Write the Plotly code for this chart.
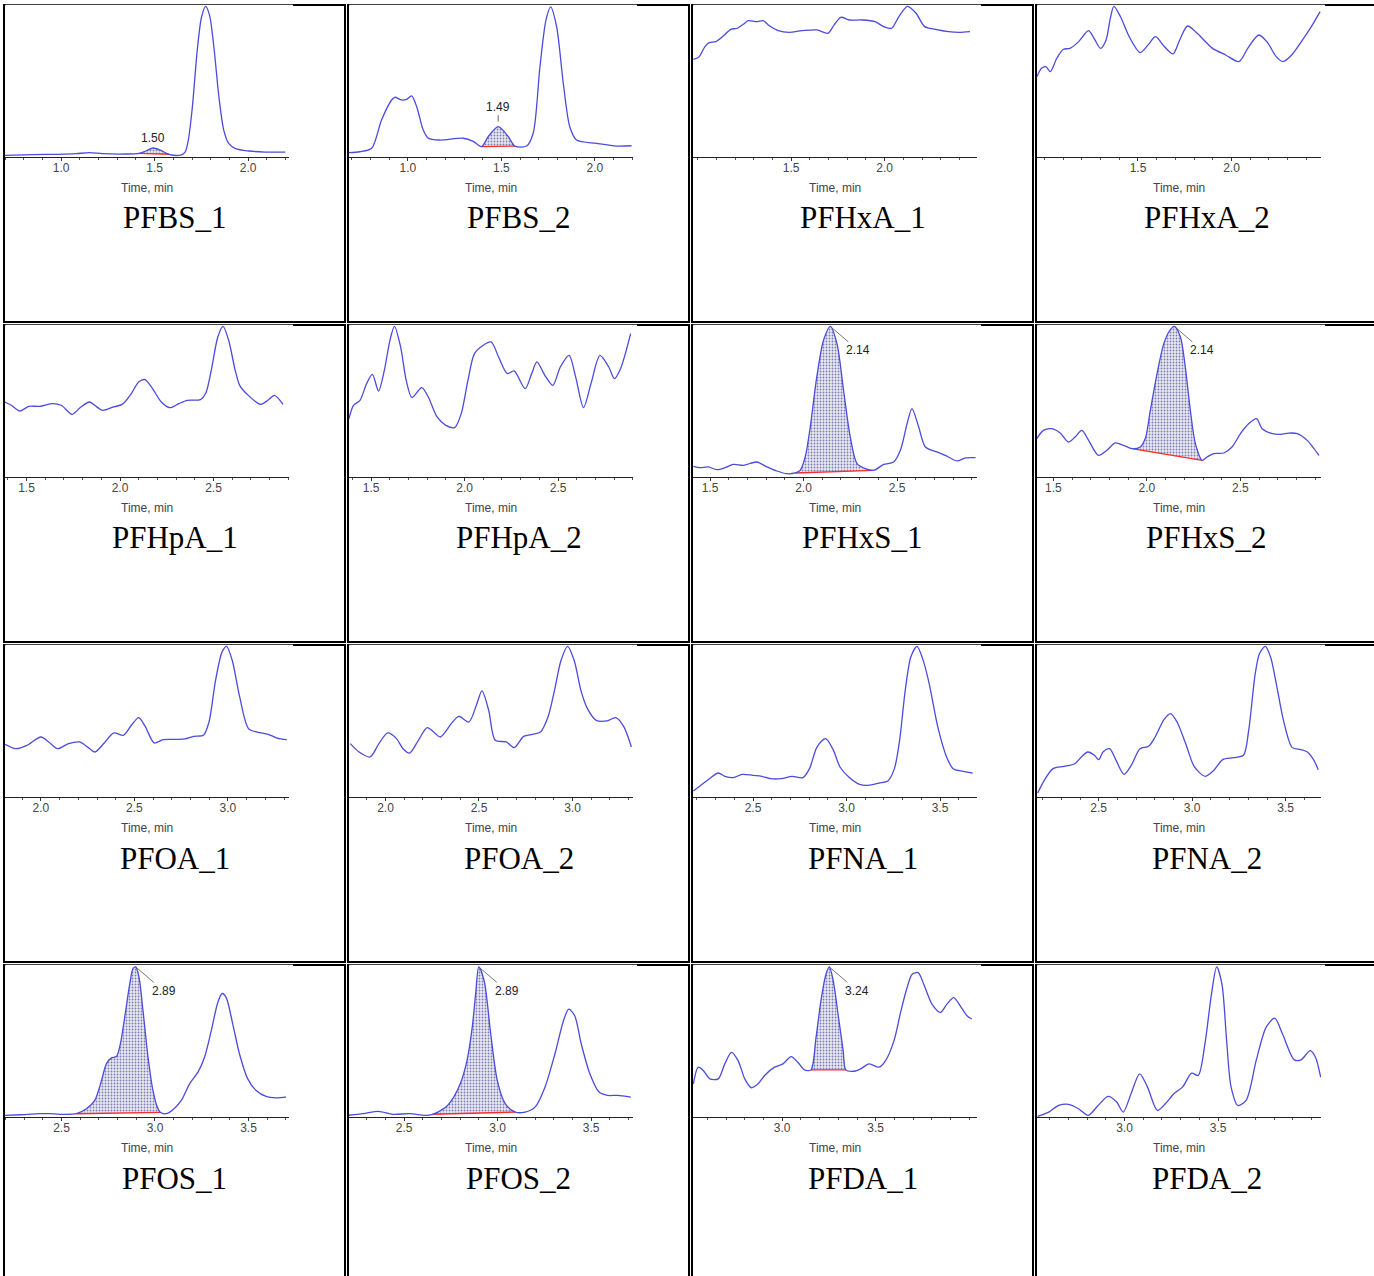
import plotly.graph_objects as go

# ---------------- data (retention time in min, relative intensity in %) ----------------
panel_names = ["PFBS_1", "PFBS_2", "PFHxA_1", "PFHxA_2",
               "PFHpA_1", "PFHpA_2", "PFHxS_1", "PFHxS_2",
               "PFOA_1", "PFOA_2", "PFNA_1", "PFNA_2",
               "PFOS_1", "PFOS_2", "PFDA_1", "PFDA_2"]

t_PFBS_1 = [0.698, 0.849, 0.991, 1.080, 1.151, 1.222, 1.346, 1.417, 1.453, 1.492, 1.533, 1.577, 1.639, 1.663,
            1.680, 1.702, 1.728, 1.751, 1.773, 1.794, 1.817, 1.844, 1.870, 1.897, 1.933, 2.004, 2.092, 2.199]
i_PFBS_1 = [1.1, 1.6, 1.8, 2.2, 2.9, 2.2, 2.0, 2.4, 4.0, 6.0, 4.4, 1.8, 1.3, 3.3,
            11.1, 33.3, 71.1, 93.3, 100.4, 94.4, 73.3, 40.0, 17.8, 8.9, 5.6, 4.0, 3.3, 3.3]

t_PFBS_2 = [0.684, 0.743, 0.806, 0.859, 0.913, 0.930, 0.966, 0.993, 1.020, 1.047, 1.082, 1.109, 1.171, 1.296,
            1.349, 1.394, 1.429, 1.483, 1.537, 1.572, 1.635, 1.670, 1.706, 1.738, 1.763, 1.795, 1.831, 1.866,
            1.902, 2.009, 2.116, 2.196]
i_PFBS_2 = [2.9, 3.5, 5.8, 24.7, 38.0, 39.8, 38.0, 38.4, 40.7, 33.5, 18.0, 12.5, 11.3, 12.5,
            10.4, 6.9, 13.5, 20.2, 13.5, 7.3, 7.3, 15.8, 60.0, 91.0, 100.0, 87.0, 49.0, 20.0,
            11.3, 9.1, 7.3, 7.5]

t_PFHxA_1 = [0.977, 1.005, 1.039, 1.062, 1.097, 1.143, 1.177, 1.212, 1.247, 1.270, 1.316, 1.350, 1.385, 1.431,
             1.488, 1.558, 1.638, 1.696, 1.730, 1.765, 1.811, 1.880, 1.949, 1.995, 2.037, 2.076, 2.122, 2.168,
             2.214, 2.272, 2.341, 2.398, 2.456]
i_PFHxA_1 = [65.1, 66.4, 73.6, 76.2, 76.9, 81.3, 85.1, 85.8, 88.7, 90.9, 90.2, 90.9, 87.3, 84.2,
             83.1, 84.2, 84.7, 82.4, 88.0, 93.1, 91.3, 91.3, 90.2, 86.9, 85.8, 93.6, 100.4, 95.8,
             86.9, 85.1, 83.6, 83.1, 83.6]

t_PFHxA_2 = [0.960, 0.984, 1.007, 1.031, 1.066, 1.101, 1.136, 1.183, 1.235, 1.265, 1.300, 1.329, 1.352, 1.371,
             1.406, 1.453, 1.512, 1.554, 1.594, 1.641, 1.688, 1.723, 1.765, 1.817, 1.899, 1.969, 2.040, 2.087,
             2.146, 2.192, 2.239, 2.275, 2.322, 2.380, 2.427, 2.474]
i_PFHxA_2 = [53.6, 59.1, 60.2, 56.9, 65.8, 71.8, 72.4, 76.9, 84.2, 79.1, 72.4, 77.8, 92.4, 100.4,
             93.6, 80.2, 69.6, 74.7, 80.2, 73.6, 68.7, 78.0, 87.3, 82.4, 72.4, 68.0, 63.6, 72.4,
             81.3, 76.4, 66.9, 63.6, 68.0, 78.0, 86.9, 96.9]

t_PFHpA_1 = [1.384, 1.419, 1.465, 1.512, 1.570, 1.640, 1.686, 1.744, 1.791, 1.837, 1.872, 1.907, 1.965, 2.012,
             2.058, 2.100, 2.133, 2.174, 2.221, 2.267, 2.314, 2.360, 2.430, 2.458, 2.488, 2.523, 2.551, 2.581,
             2.616, 2.640, 2.686, 2.751, 2.791, 2.826, 2.872]
i_PFHpA_1 = [50.0, 47.8, 44.0, 47.1, 47.1, 48.9, 47.8, 41.8, 46.7, 50.0, 47.1, 44.4, 46.7, 48.4,
             55.1, 63.3, 64.9, 58.9, 50.0, 46.2, 48.9, 51.1, 51.6, 55.6, 71.1, 93.3, 100.4, 91.1,
             71.1, 61.1, 54.4, 48.4, 51.1, 54.4, 48.4]

t_PFHpA_2 = [1.382, 1.406, 1.441, 1.476, 1.507, 1.540, 1.571, 1.601, 1.625, 1.658, 1.688, 1.719, 1.771, 1.806,
             1.853, 1.900, 1.947, 1.982, 2.018, 2.053, 2.100, 2.142, 2.182, 2.229, 2.265, 2.324, 2.359, 2.387,
             2.429, 2.472, 2.512, 2.559, 2.594, 2.636, 2.676, 2.724, 2.771, 2.801, 2.834, 2.888]
i_PFHpA_2 = [38.9, 47.8, 51.1, 62.2, 68.4, 57.3, 71.1, 91.1, 100.4, 86.7, 64.4, 52.9, 59.6, 53.3,
             40.0, 34.4, 32.9, 42.2, 64.4, 82.2, 87.8, 90.0, 80.0, 68.9, 70.7, 58.9, 68.9, 76.7,
             67.8, 61.1, 73.3, 81.1, 66.7, 46.2, 62.2, 81.1, 73.3, 65.6, 72.2, 95.6]

t_PFHxS_1 = [1.411, 1.446, 1.491, 1.536, 1.580, 1.625, 1.679, 1.750, 1.804, 1.857, 1.911, 1.955, 1.982, 2.009,
             2.036, 2.071, 2.107, 2.143, 2.179, 2.214, 2.250, 2.286, 2.330, 2.375, 2.429, 2.482, 2.518, 2.554,
             2.580, 2.616, 2.652, 2.714, 2.768, 2.821, 2.866, 2.920]
i_PFHxS_1 = [7.1, 6.2, 6.7, 4.9, 6.2, 8.4, 7.8, 10.0, 6.7, 4.0, 2.2, 2.7, 4.4, 13.3,
             33.3, 66.7, 91.1, 100.4, 88.9, 57.8, 26.7, 8.9, 5.6, 4.4, 8.4, 10.0, 17.8, 35.6,
             45.6, 33.3, 20.0, 16.7, 13.8, 10.7, 12.7, 12.9]

t_PFHxS_2 = [1.411, 1.446, 1.491, 1.536, 1.580, 1.616, 1.652, 1.688, 1.741, 1.786, 1.830, 1.875, 1.920, 1.964,
             1.991, 2.018, 2.054, 2.089, 2.120, 2.146, 2.179, 2.205, 2.232, 2.259, 2.295, 2.321, 2.357, 2.411,
             2.455, 2.500, 2.545, 2.586, 2.616, 2.661, 2.714, 2.759, 2.804, 2.857, 2.893, 2.920]
i_PFHxS_2 = [25.6, 31.1, 32.2, 29.3, 23.3, 26.7, 31.1, 24.4, 14.4, 17.8, 22.7, 21.1, 18.9, 20.0,
             25.6, 44.4, 68.9, 88.4, 97.3, 100.4, 93.3, 73.3, 44.4, 22.2, 11.1, 13.3, 15.6, 16.0,
             20.0, 28.9, 35.6, 38.9, 32.2, 29.3, 28.4, 29.3, 28.9, 24.4, 18.9, 14.4]

t_PFOA_1 = [1.808, 1.866, 1.925, 2.000, 2.042, 2.089, 2.148, 2.207, 2.254, 2.289, 2.336, 2.390, 2.441, 2.484,
            2.523, 2.559, 2.606, 2.653, 2.723, 2.770, 2.817, 2.869, 2.899, 2.934, 2.969, 2.993, 3.023, 3.063,
            3.110, 3.157, 3.216, 3.263, 3.315]
i_PFOA_1 = [35.1, 32.2, 34.4, 40.0, 36.7, 32.2, 35.6, 36.7, 32.9, 30.0, 35.6, 42.7, 41.1, 47.8,
            52.9, 46.7, 36.0, 38.2, 38.4, 38.7, 40.4, 41.1, 50.0, 77.8, 96.7, 100.4, 91.1, 66.7,
            45.6, 43.3, 41.8, 39.3, 38.2]

t_PFOA_2 = [1.812, 1.859, 1.918, 1.965, 2.012, 2.059, 2.094, 2.129, 2.176, 2.223, 2.258, 2.293, 2.352, 2.392,
            2.446, 2.486, 2.516, 2.552, 2.587, 2.646, 2.688, 2.739, 2.786, 2.829, 2.869, 2.904, 2.939, 2.974,
            3.009, 3.045, 3.080, 3.127, 3.185, 3.232, 3.275, 3.315]
i_PFOA_2 = [35.6, 30.0, 26.7, 35.6, 42.7, 38.9, 32.2, 29.3, 37.8, 46.2, 43.3, 40.0, 48.9, 53.8,
            50.0, 61.1, 70.7, 57.8, 37.8, 36.7, 32.9, 40.4, 41.8, 43.3, 53.3, 71.1, 91.1, 100.4,
            91.1, 71.1, 58.9, 51.1, 50.7, 52.9, 46.7, 33.3]

t_PFNA_1 = [2.181, 2.221, 2.267, 2.314, 2.349, 2.395, 2.442, 2.500, 2.547, 2.593, 2.651, 2.709, 2.767, 2.802,
            2.842, 2.888, 2.930, 2.965, 3.012, 3.070, 3.116, 3.174, 3.221, 3.256, 3.284, 3.314, 3.344, 3.377,
            3.407, 3.442, 3.488, 3.535, 3.570, 3.616, 3.674]
i_PFNA_1 = [4.0, 7.8, 12.2, 16.0, 13.8, 12.9, 15.1, 14.4, 13.8, 12.2, 12.2, 13.8, 12.9, 18.9,
            33.3, 38.9, 31.1, 20.0, 13.3, 8.4, 7.8, 9.3, 10.7, 18.9, 37.8, 71.1, 93.3, 100.4,
            92.2, 75.6, 46.7, 26.7, 18.9, 17.3, 16.0]

t_PFNA_2 = [2.174, 2.209, 2.256, 2.314, 2.372, 2.407, 2.442, 2.477, 2.500, 2.523, 2.558, 2.593, 2.635, 2.674,
            2.721, 2.767, 2.802, 2.849, 2.884, 2.919, 2.965, 3.012, 3.070, 3.116, 3.163, 3.221, 3.274, 3.302,
            3.337, 3.360, 3.391, 3.419, 3.453, 3.488, 3.535, 3.581, 3.616, 3.651, 3.674]
i_PFNA_2 = [2.7, 11.1, 18.9, 20.4, 22.2, 26.7, 30.0, 27.8, 24.9, 30.0, 32.2, 24.4, 15.1, 21.1,
            32.2, 33.8, 40.0, 51.6, 55.6, 50.0, 35.6, 20.0, 13.8, 17.8, 24.9, 26.2, 27.8, 44.4,
            82.2, 95.6, 100.4, 93.3, 73.3, 51.1, 32.9, 31.6, 30.0, 24.4, 18.2]

t_PFOS_1 = [2.198, 2.278, 2.384, 2.438, 2.491, 2.580, 2.633, 2.678, 2.714, 2.740, 2.767, 2.794, 2.815, 2.838,
            2.865, 2.883, 2.897, 2.915, 2.936, 2.963, 2.989, 3.011, 3.028, 3.060, 3.096, 3.141, 3.185, 3.230,
            3.265, 3.301, 3.336, 3.359, 3.381, 3.416, 3.452, 3.496, 3.541, 3.594, 3.648, 3.701]
i_PFOS_1 = [1.1, 1.5, 2.2, 2.2, 1.8, 2.2, 5.5, 11.1, 24.3, 35.4, 39.4, 40.3, 48.7, 66.4,
            88.5, 99.1, 100.0, 92.9, 70.8, 39.8, 17.7, 7.1, 3.1, 2.2, 4.9, 11.1, 22.1, 29.9,
            39.8, 57.5, 76.3, 82.3, 79.6, 61.9, 42.0, 25.4, 17.7, 13.7, 12.8, 13.3]

t_PFOS_2 = [2.200, 2.281, 2.362, 2.440, 2.528, 2.617, 2.652, 2.680, 2.723, 2.765, 2.800, 2.836, 2.864, 2.882,
            2.899, 2.928, 2.963, 2.998, 3.041, 3.094, 3.147, 3.200, 3.253, 3.306, 3.352, 3.380, 3.412, 3.447,
            3.493, 3.542, 3.588, 3.641, 3.712]
i_PFOS_2 = [1.1, 2.2, 3.8, 1.8, 2.2, 1.1, 1.8, 3.3, 6.6, 13.3, 22.1, 37.6, 59.7, 81.9,
            100.0, 90.7, 55.3, 24.3, 8.8, 3.3, 3.3, 6.6, 19.9, 42.0, 64.2, 71.9, 67.5, 48.7,
            28.8, 16.6, 14.4, 14.4, 13.3]

t_PFDA_1 = [2.525, 2.551, 2.578, 2.613, 2.658, 2.693, 2.729, 2.764, 2.800, 2.835, 2.871, 2.906, 2.959, 3.004,
            3.048, 3.083, 3.119, 3.154, 3.181, 3.207, 3.234, 3.252, 3.273, 3.301, 3.326, 3.340, 3.385, 3.420,
            3.465, 3.518, 3.553, 3.598, 3.633, 3.668, 3.695, 3.727, 3.757, 3.801, 3.846, 3.881, 3.917, 3.952,
            3.988, 4.014]
i_PFDA_1 = [22.1, 33.2, 31.0, 25.4, 25.4, 35.4, 43.1, 37.6, 25.4, 19.5, 22.1, 27.7, 33.2, 35.4,
            40.3, 36.5, 31.4, 31.4, 53.1, 77.4, 95.1, 100.0, 90.7, 66.4, 44.2, 31.4, 30.5, 32.1,
            35.4, 33.2, 37.6, 50.9, 69.7, 86.3, 95.1, 96.2, 88.5, 75.2, 69.7, 75.2, 79.6, 74.1,
            67.5, 65.3]

t_PFDA_2 = [2.535, 2.595, 2.648, 2.701, 2.754, 2.806, 2.859, 2.912, 2.958, 2.993, 3.035, 3.081, 3.123, 3.176,
            3.218, 3.264, 3.310, 3.359, 3.394, 3.430, 3.465, 3.493, 3.521, 3.546, 3.570, 3.606, 3.651, 3.704,
            3.757, 3.803, 3.845, 3.908, 3.944, 3.993, 4.021, 4.049]
i_PFDA_2 = [0.4, 3.3, 7.7, 8.4, 5.5, 1.1, 7.7, 13.7, 10.0, 3.3, 15.5, 28.8, 19.9, 4.4,
            8.8, 15.5, 19.9, 29.2, 27.7, 48.7, 81.9, 100.0, 88.5, 50.9, 19.9, 7.7, 11.3, 37.6,
            59.7, 65.9, 55.3, 38.1, 38.1, 44.2, 39.8, 26.5]

panel_times = [t_PFBS_1, t_PFBS_2, t_PFHxA_1, t_PFHxA_2, t_PFHpA_1, t_PFHpA_2, t_PFHxS_1, t_PFHxS_2,
               t_PFOA_1, t_PFOA_2, t_PFNA_1, t_PFNA_2, t_PFOS_1, t_PFOS_2, t_PFDA_1, t_PFDA_2]
panel_ints = [i_PFBS_1, i_PFBS_2, i_PFHxA_1, i_PFHxA_2, i_PFHpA_1, i_PFHpA_2, i_PFHxS_1, i_PFHxS_2,
              i_PFOA_1, i_PFOA_2, i_PFNA_1, i_PFNA_2, i_PFOS_1, i_PFOS_2, i_PFDA_1, i_PFDA_2]

# time shown at the left end of each panel's axis (min)
axis_start = [0.700, 0.685, 0.975, 0.960, 1.385, 1.382, 1.409, 1.412,
              1.808, 1.805, 2.179, 2.170, 2.198, 2.205, 2.523, 2.532]

# labelled tick values (min)
tick_values = [0.5, 1.0, 1.5, 2.0, 2.5, 3.0, 3.5, 4.0]

# integrated peaks: (start, end) in min, and label
peak_windows = {"PFBS_1": (1.417, 1.577), "PFBS_2": (1.394, 1.572),
                "PFHxS_1": (1.955, 2.375), "PFHxS_2": (1.920, 2.295),
                "PFOS_1": (2.580, 3.028), "PFOS_2": (2.652, 3.094),
                "PFDA_1": (3.154, 3.340)}
peak_labels = {"PFBS_1": "1.50", "PFBS_2": "1.49", "PFHxS_1": "2.14", "PFHxS_2": "2.14",
               "PFOS_1": "2.89", "PFOS_2": "2.89", "PFDA_1": "3.24"}

# ---------------- layout geometry (pixels) ----------------
W, H = 1374, 1276
COL_LEFT = [4, 348, 692, 1036]
ROW_TOP = [5, 325, 645, 965]
PLOT_W = 284          # plot width in px
AXIS_DROP = 152       # axis line below cell top
PX_PER_MIN = 187.0
SPAN = PLOT_W / PX_PER_MIN

CURVE = "#4b4bdc"
SANS = "Liberation Sans"
SERIF = "Liberation Serif"


def px(x):
    return x / W


def py(y):
    return 1 - y / H


fig = go.Figure()
layout = dict(width=W, height=H, margin=dict(l=0, r=0, t=0, b=0),
              paper_bgcolor="white", plot_bgcolor="rgba(0,0,0,0)", showlegend=False)
shapes = []
annotations = []

for k, name in enumerate(panel_names):
    r, c = divmod(k, 4)
    L, T = COL_LEFT[c], ROW_TOP[r]
    xa = "x" if k == 0 else f"x{k + 1}"
    ya = "y" if k == 0 else f"y{k + 1}"
    xkey = "xaxis" if k == 0 else f"xaxis{k + 1}"
    ykey = "yaxis" if k == 0 else f"yaxis{k + 1}"
    x0 = axis_start[k]
    x1 = x0 + SPAN
    shown = [tv for tv in tick_values if x0 + 0.08 <= tv <= x1 - 0.1]

    # cell border and chart image area
    shapes.append(dict(type="rect", xref="paper", yref="paper", layer="below",
                       x0=px(L), x1=px(L + 341), y0=py(T), y1=py(T + 317),
                       line=dict(color="black", width=2), fillcolor="rgba(0,0,0,0)"))
    shapes.append(dict(type="rect", xref="paper", yref="paper", layer="below",
                       x0=px(L + 1.2), x1=px(L + 289), y0=py(T - 0.2), y1=py(T + 193),
                       line=dict(width=0), fillcolor="white"))

    layout[xkey] = dict(domain=[px(L + 1), px(L + 1 + PLOT_W)], anchor=ya, range=[x0, x1],
                        showgrid=False, zeroline=False, showline=True, linecolor="#222", linewidth=1,
                        ticks="outside", ticklen=3, tickwidth=1, tickcolor="#333",
                        tickmode="array", tickvals=shown, ticktext=[f"{tv:.1f}" for tv in shown],
                        ticklabelstandoff=-3,
                        tickfont=dict(family=SANS, size=12, color="#444"),
                        minor=dict(ticks="outside", ticklen=2, tickcolor="#555", dtick=0.1, tick0=0),
                        fixedrange=True)
    layout[ykey] = dict(domain=[py(T + AXIS_DROP), py(T)], anchor=xa, range=[0, 101.3],
                        visible=False, fixedrange=True)

    t = panel_times[k]
    v = panel_ints[k]

    if name in peak_windows:
        s, e = peak_windows[name]
        idx = [j for j, tv in enumerate(t) if s - 1e-9 <= tv <= e + 1e-9]
        pt = [t[j] for j in idx]
        pv = [v[j] for j in idx]
        fig.add_trace(go.Scatter(x=pt, y=pv, mode="lines", xaxis=xa, yaxis=ya,
                                 line=dict(width=0, color="rgba(0,0,0,0)", shape="spline", smoothing=0.8),
                                 fill="toself", fillcolor="#eaeaf5",
                                 fillpattern=dict(shape=".", bgcolor="#eaeaf5", fgcolor="#7d7daf",
                                                  size=3, solidity=0.3, fillmode="replace"),
                                 hoverinfo="skip"))
        fig.add_trace(go.Scatter(x=[pt[0], pt[-1]], y=[pv[0], pv[-1]], mode="lines", xaxis=xa, yaxis=ya,
                                 line=dict(color="#ff2a2a", width=1.4), hoverinfo="skip"))
        apex = max(idx, key=lambda j: v[j])
        lab = peak_labels[name]
        if name == "PFBS_1":
            annotations.append(dict(x=t[apex], y=v[apex], xref=xa, yref=ya, text=lab, showarrow=False,
                                    yshift=10, font=dict(family=SANS, size=12, color="#222")))
        elif name == "PFBS_2":
            annotations.append(dict(x=t[apex], y=v[apex], xref=xa, yref=ya, text=lab, showarrow=True,
                                    ax=0, ay=-20, arrowhead=0, arrowwidth=0.8, arrowcolor="#444",
                                    standoff=5, font=dict(family=SANS, size=12, color="#222")))
        else:
            annotations.append(dict(x=t[apex], y=v[apex], xref=xa, yref=ya, text=lab, showarrow=True,
                                    ax=28, ay=24, arrowhead=0, arrowwidth=0.8, arrowcolor="#555",
                                    standoff=0, font=dict(family=SANS, size=12, color="#222")))

    fig.add_trace(go.Scatter(x=t, y=v, mode="lines", xaxis=xa, yaxis=ya,
                             line=dict(color=CURVE, width=1.3, shape="spline", smoothing=0.8),
                             hoverinfo="skip"))

    # axis title and sample name
    annotations.append(dict(x=px(L + 1 + PLOT_W / 2), y=py(T + 183), xref="paper", yref="paper",
                            text="Time, min", showarrow=False, xanchor="center", yanchor="middle",
                            font=dict(family=SANS, size=12, color="#444")))
    annotations.append(dict(x=px(L + 170.5), y=py(T + 213), xref="paper", yref="paper",
                            text=name, showarrow=False, xanchor="center", yanchor="middle",
                            font=dict(family=SERIF, size=31, color="black")))

layout["shapes"] = shapes
layout["annotations"] = annotations
fig.update_layout(**layout)
fig.write_html("out.html", config=dict(displayModeBar=False),
               post_script="document.body.style.margin='0';document.body.style.overflow='hidden';")
